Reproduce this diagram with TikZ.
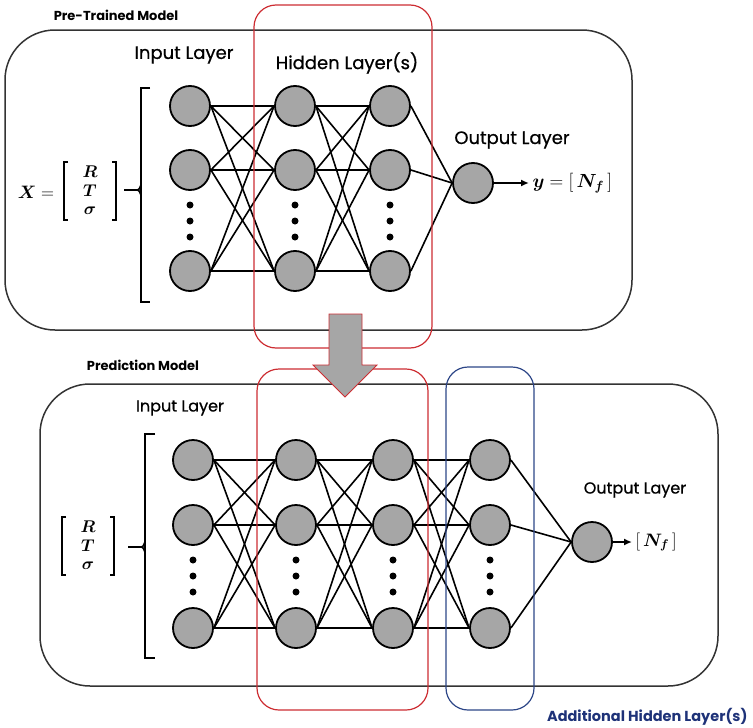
\RequirePackage{fix-cm}
\documentclass[tikz,border=0pt]{standalone}
\usepackage{amsmath, amssymb, bm}
\usepackage{fontspec}
\setmainfont{Poppins}
\newfontfamily\headfont{Poppins}[FakeBold=0.7]
\usepackage{xcolor}
\usepackage{tikz}
\usetikzlibrary{arrows.meta, positioning}

\definecolor{nodegray}{RGB}{166,166,166}
\definecolor{boxred}{RGB}{205,45,50}
\definecolor{boxblue}{RGB}{45,70,135}
\definecolor{labelblue}{RGB}{30,50,120}

\tikzset{
  neuron/.style={circle, draw=black, line width=1.8pt, fill=nodegray, minimum size=40pt, inner sep=0pt},
  panel/.style={draw=black!80, line width=1.5pt, rounded corners=50pt},
  layerbox/.style={line width=1.2pt, rounded corners=22pt},
  wire/.style={line width=1.6pt},
  brack/.style={line width=1.7pt},
  mbrack/.style={line width=1.2pt},
  heading/.style={font=\headfont\fontsize{18}{20}\selectfont},
  smallheading/.style={font=\headfont\fontsize{16}{18}\selectfont},
  title/.style={font=\bfseries\fontsize{13}{15}\selectfont},
  entry/.style={font=\fontsize{17}{19}\selectfont, inner sep=0pt},
}

\begin{document}
\begin{tikzpicture}[x=1pt, y=-1pt]
    \useasboundingbox (0,0) rectangle (753,728);

    % Panels
    \draw[panel] (5,30) rectangle (632,330);
    \draw[panel] (40,384) rectangle (718,686);
    \node[title] (pretrained) at (116,15) {Pre-Trained Model};
    \node[title] (prediction) at (143,365) {Prediction Model};

    % Pre-trained network
    \foreach \n/\y in {1/106, 2/170, 3/271} {
        \node[neuron] (ti\n) at (190,\y) {};
        \node[neuron] (th\n) at (295,\y) {};
        \node[neuron] (tk\n) at (390,\y) {};
    }
    \node[neuron] (tout) at (473,183) {};
    \foreach \a in {1,2,3} {
        \foreach \b in {1,2,3} {
            \draw[wire] (ti\a.east) -- (th\b.west);
            \draw[wire] (th\a.east) -- (tk\b.west);
        }
        \draw[wire] (tk\a.east) -- (tout.west);
    }
    \foreach \x in {190,295,390}
        \foreach \y in {205,221,237}
            \fill (\x,\y) circle (3.5pt);

    % Labels (top)
    \node[heading] (tinlabel) at (184,55) {Input Layer};
    \node[heading] (thidlabel) at (347,63) {Hidden Layer(s)};
    \node[heading] (toutlabel) at (512,140) {Output Layer};

    % Input vector and bracket (top)
    \node[entry] (tr) at (90,172) {$\bm{R}$};
    \node[entry] (tt) at (90,191) {$\bm{T}$};
    \node[entry] (ts) at (90,211) {$\bm{\sigma}$};
    \node[font=\fontsize{18}{20}\selectfont] (teq) at (36,192) {$\bm{X} =$};
    \draw[mbrack] (68,162) -- (64,162) -- (64,220) -- (68,220);
    \draw[mbrack] (112,162) -- (116,162) -- (116,220) -- (112,220);
    \draw[brack] (150,88) -- (141,88) -- (141,302) -- (150,302);
    \draw[brack] (124,190) -- (135,190) .. controls (139,190) .. (141,185);
    \draw[brack] (135,190) .. controls (139,190) .. (141,195);

    % Output (top)
    \node[anchor=west, font=\fontsize{19}{21}\selectfont] (ty) at (529,183) {$\bm{y} = [\,\bm{N_f}\,]$};
    \draw[wire, -{Latex[length=8pt, width=7pt]}] (tout.east) -- (ty.west);

    % Hidden layer box (top)
    \draw[layerbox, draw=boxred] (254,5) rectangle (432,348);

    % Prediction network
    \foreach \n/\y in {1/460, 2/525, 3/628} {
        \node[neuron] (pi\n) at (193,\y) {};
        \node[neuron] (ph\n) at (296,\y) {};
        \node[neuron] (pk\n) at (393,\y) {};
        \node[neuron] (pa\n) at (490,\y) {};
    }
    \node[neuron] (pout) at (592,542) {};
    \foreach \a in {1,2,3} {
        \foreach \b in {1,2,3} {
            \draw[wire] (pi\a.east) -- (ph\b.west);
            \draw[wire] (ph\a.east) -- (pk\b.west);
            \draw[wire] (pk\a.east) -- (pa\b.west);
        }
        \draw[wire] (pa\a.east) -- (pout.west);
    }
    \foreach \x in {193,296,393,490}
        \foreach \y in {560,576,592}
            \fill (\x,\y) circle (3.5pt);

    % Labels (bottom)
    \node[smallheading] (pinlabel) at (180,408) {Input Layer};
    \node[smallheading] (poutlabel) at (635,490) {Output Layer};

    % Input vector and bracket (bottom)
    \node[entry] (pr) at (88,527) {$\bm{R}$};
    \node[entry] (pt) at (88,546) {$\bm{T}$};
    \node[entry] (ps) at (88,566) {$\bm{\sigma}$};
    \draw[mbrack] (66,517) -- (62,517) -- (62,575) -- (66,575);
    \draw[mbrack] (110,517) -- (114,517) -- (114,575) -- (110,575);
    \draw[brack] (155,434) -- (145,434) -- (145,658) -- (155,658);
    \draw[brack] (128,547) -- (139,547) .. controls (143,547) .. (145,542);
    \draw[brack] (139,547) .. controls (143,547) .. (145,552);

    % Output (bottom)
    \node[anchor=west, font=\fontsize{18}{20}\selectfont] (py) at (632,542) {$[\,\bm{N_f}\,]$};
    \draw[wire, -{Latex[length=8pt, width=7pt]}] (pout.east) -- (py.west);

    % Layer boxes (bottom)
    \draw[layerbox, draw=boxred] (257,369) rectangle (428,710);
    \draw[layerbox, draw=boxblue] (446,367) rectangle (534,710);
    \node[anchor=east, text=labelblue, font=\bfseries\fontsize{14.5}{16}\selectfont] (addlabel) at (751,717) {Additional Hidden Layer(s)};

    % Transfer arrow
    \filldraw[fill=nodegray, draw=boxred, line width=0.8pt]
        (329,314) -- (362,314) -- (362,365) -- (377,365) -- (345,397)
        -- (313,365) -- (329,365) -- cycle;
\end{tikzpicture}
\end{document}
